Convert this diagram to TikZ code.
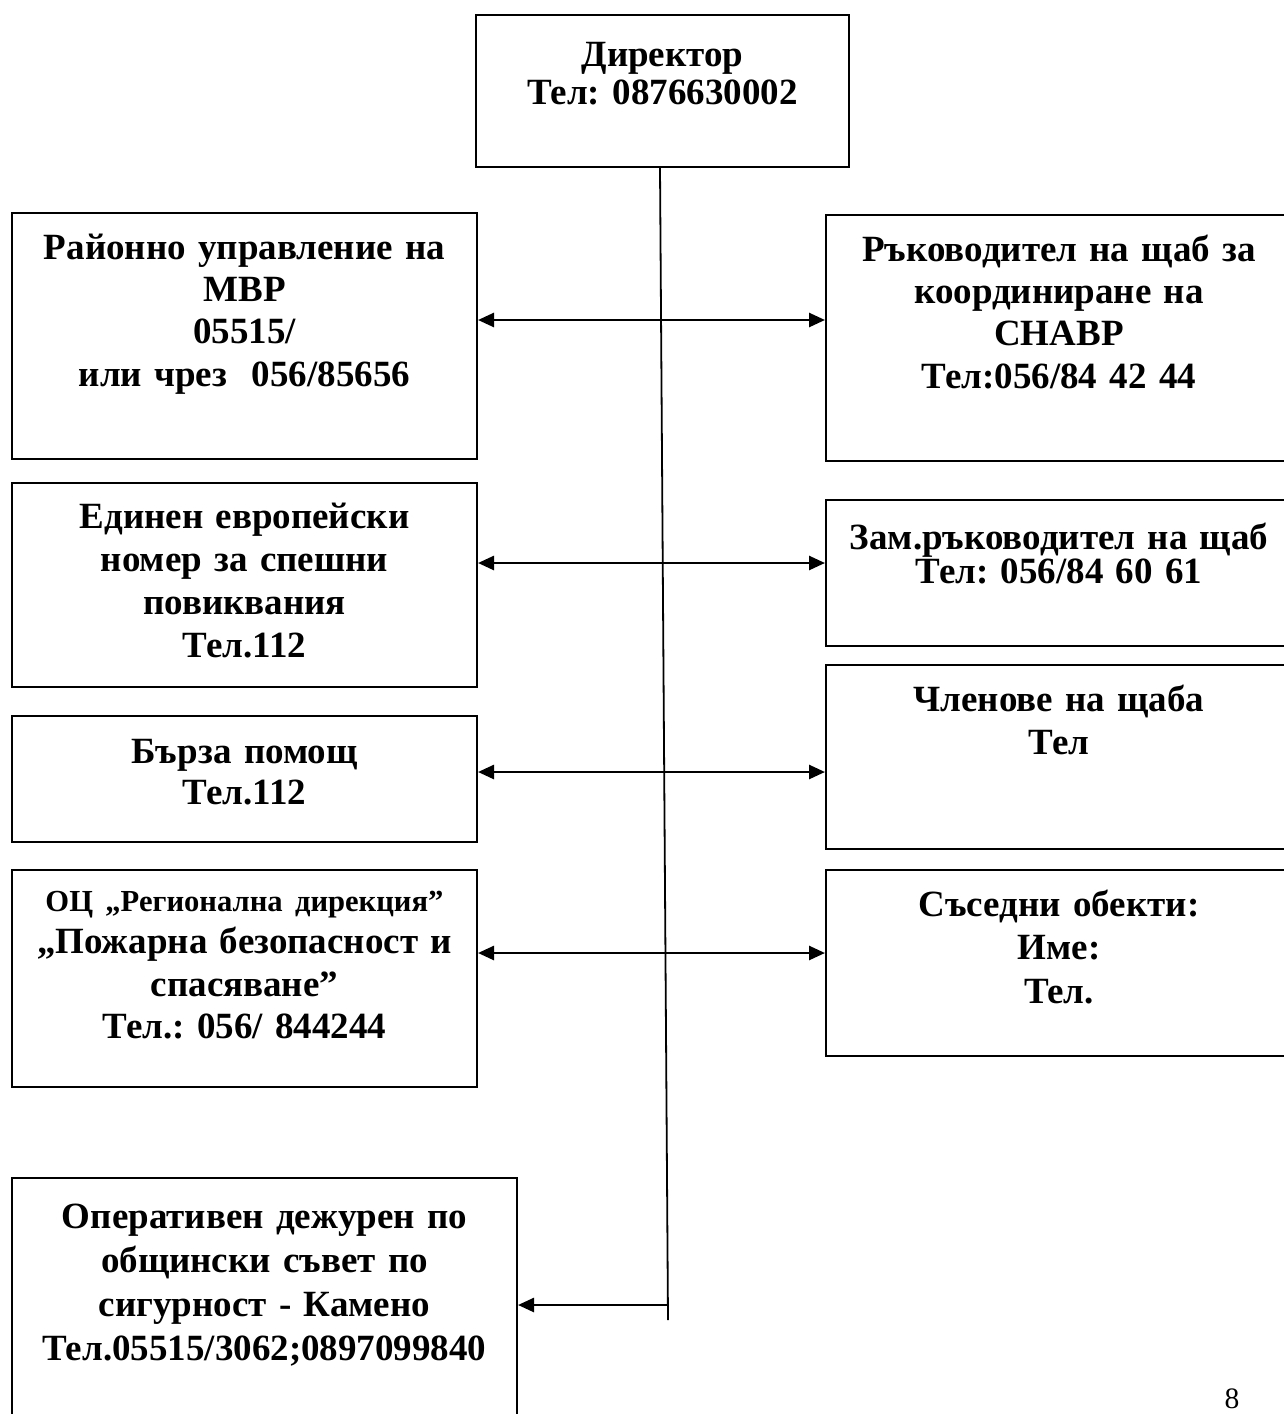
\documentclass[tikz,border=0pt]{standalone}
\usepackage{fontspec}
\setmainfont{Liberation Serif}
\usetikzlibrary{arrows.meta,calc}
\frenchspacing
\tikzset{
  box/.style={draw,line width=1pt,inner sep=0pt,align=center,anchor=north},
  lead/.style={font=\bfseries\fontsize{18.5}{#1}\selectfont},
  link/.style={line width=1.3pt,{Triangle[length=8pt,width=7pt]}-{Triangle[length=8pt,width=7pt]}},
  tolink/.style={line width=1.3pt,-{Triangle[length=8pt,width=7pt]}},
  trunk/.style={line width=0.9pt},
}

\begin{document}
\begin{tikzpicture}[x=0.5pt,y=-0.5pt]
\useasboundingbox (0,0) rectangle (1284,1414);
% head of the chart
\node[box,lead=19pt,text width=186.5pt,text height=25.5pt,text depth=50.5pt] (dir) at (662.5,14)
  {Директор\\Тел: 0876630002};
% left column
\node[box,lead=21.2pt,text width=232.5pt,text height=23pt,text depth=100pt] (mvr) at (244.5,212)
  {Районно управление на\\МВР\\05515/\\или чрез\ \ 056/85656};
\node[box,lead=21.5pt,text width=232.5pt,text height=22.5pt,text depth=79.5pt] (eden) at (244.5,482)
  {Единен европейски\\номер за спешни\\повиквания\\Тел.112};
\node[box,lead=20.5pt,text width=232.5pt,text height=23.5pt,text depth=39.5pt] (burza) at (244.5,715)
  {Бърза помощ\\Тел.112};
\node[box,lead=21.3pt,text width=232.5pt,text height=20.5pt,text depth=88pt] (oc) at (244.5,869)
  {{\fontsize{15.3}{21.3}\selectfont ОЦ „Регионална дирекция”}\\„Пожарна безопасност и\\спасяване”\\Тел.: 056/ 844244};
\node[box,lead=22pt,text width=252.5pt,text height=25pt,text depth=110pt] (oper) at (264.5,1177)
  {Оперативен дежурен по\\общински съвет по\\сигурност - Камено\\Тел.05515/3062;0897099840};
% right column
\node[box,lead=21.2pt,text width=233pt,text height=23pt,text depth=100pt] (ruk) at (1059,214)
  {Ръководител на щаб за\\координиране на\\СНАВР\\Тел:056/84 42 44};
\node[box,lead=16pt,text width=233pt,text height=24.5pt,text depth=48.5pt] (zam) at (1059,499)
  {Зам.ръководител на щаб\\Тел: 056/84 60 61\hspace*{17pt}};
\node[box,lead=21.5pt,text width=233pt,text height=23pt,text depth=69pt] (chl) at (1059,664)
  {Членове на щаба\\Тел};
\node[box,lead=21.75pt,text width=233pt,text height=23pt,text depth=70pt] (sased) at (1059,869)
  {Съседни обекти:\\Име:\\Тел.};
% page number
\node[anchor=base,inner sep=0pt,font=\fontsize{14.8}{17}\selectfont] (pg) at (1232,1408) {8};
% connectors
\coordinate (tend) at (668,1320);
\coordinate (tap) at (668,1305);
\draw[trunk] ([xshift=-1.25pt]dir.south) -- (tend);
\foreach \a/\b/\y in {mvr/ruk/320,eden/zam/563,burza/chl/772,oc/sased/953}
  \draw[link] (\a.east |- 0,\y) -- (\b.west |- 0,\y);
\draw[tolink] (tap) -- (oper.east |- tap);
\end{tikzpicture}
\end{document}
